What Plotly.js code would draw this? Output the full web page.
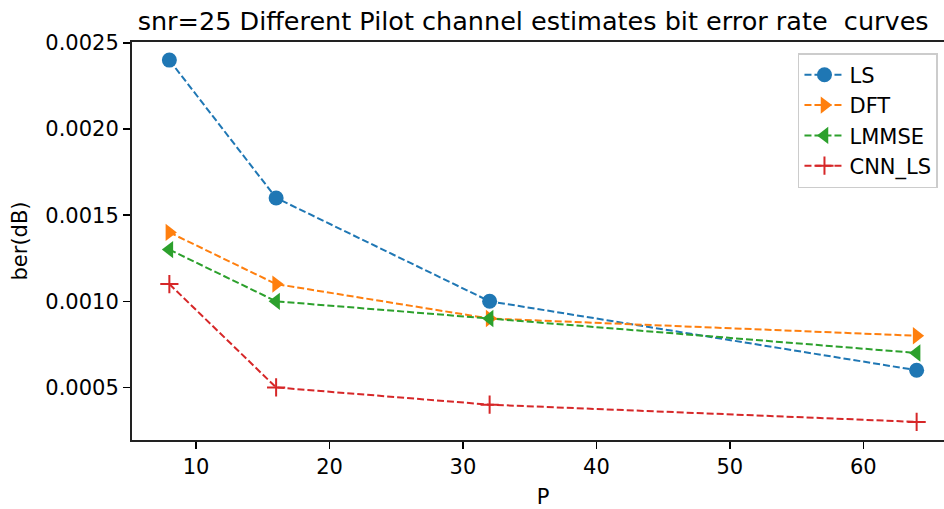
<!DOCTYPE html>
<html>
<head>
<meta charset="utf-8">
<script src="https://cdn.plot.ly/plotly-3.0.1.min.js"></script>
<style>
html,body{margin:0;padding:0;overflow:hidden;background:#fff;width:944px;height:509px;}
#chart{width:956px;height:509px;}
</style>
</head>
<body>
<div id="chart"></div>
<script>
const P = [8, 16, 32, 64];
const LS = [0.0024, 0.0016, 0.0010, 0.0006];
const DFT = [0.0014, 0.0011, 0.0009, 0.0008];
const LMMSE = [0.0013, 0.0010, 0.0009, 0.0007];
const CNN_LS = [0.0011, 0.0005, 0.0004, 0.0003];
const seriesNames = ['LS', 'DFT', 'LMMSE', 'CNN_LS'];
const yTickVals = [0.0005, 0.0010, 0.0015, 0.0020, 0.0025];
const xTickVals = [10, 20, 30, 40, 50, 60];

const FONT = 'DejaVu Sans, sans-serif';
const colors = ['#1f77b4', '#ff7f0e', '#2ca02c', '#d62728'];
const symbols = ['circle', 'triangle-right', 'triangle-left', 'cross-thin'];
const sizes = [15, 15, 15, 13];
const data = [LS, DFT, LMMSE, CNN_LS].map((ys, i) => ({
  x: P, y: ys, name: seriesNames[i], type: 'scatter', mode: 'lines+markers',
  line: {color: colors[i], width: 2, dash: '7px,3px'},
  marker: {symbol: symbols[i], size: sizes[i], color: colors[i],
           line: {color: colors[i], width: symbols[i] === 'cross-thin' ? 2 : 0}}
}));

const layout = {
  width: 956, height: 509,
  margin: {l: 132, r: 2, t: 42, b: 69},
  paper_bgcolor: '#fff', plot_bgcolor: '#fff',
  font: {family: FONT, size: 21, color: '#000'},
  showlegend: true,
  title: {text: 'snr=25 Different Pilot channel estimates bit error rate  curves',
          font: {family: FONT, size: 25.5, color: '#000'},
          x: 0.488, xref: 'paper', xanchor: 'center', y: 1 - 21/509, yref: 'container', yanchor: 'middle'},
  xaxis: {
    range: [5.2, 66.8], tickvals: xTickVals, ticks: 'outside', ticklen: 7, tickwidth: 1.5,
    tickcolor: '#000', showline: true, linecolor: '#222', linewidth: 2, mirror: true,
    showgrid: false, zeroline: false, tickfont: {size: 21},
    title: {text: 'P', font: {size: 21}, standoff: 16}
  },
  yaxis: {
    range: [0.000195, 0.002505], tickvals: yTickVals, tickformat: '.4f', ticks: 'outside', ticklen: 7, tickwidth: 1.5,
    tickcolor: '#000', showline: true, linecolor: '#222', linewidth: 2, mirror: true,
    showgrid: false, zeroline: false, tickfont: {size: 21},
    title: {text: 'ber(dB)', font: {size: 21}, standoff: 12}
  },
  legend: {x: 0.9805, y: 0.972, xanchor: 'right', yanchor: 'top',
           bgcolor: 'rgba(255,255,255,0.8)', bordercolor: '#cccccc', borderwidth: 1.5,
           font: {size: 21}, tracegroupgap: 0, itemwidth: 40}
};
Plotly.newPlot('chart', data, layout, {displayModeBar: false, staticPlot: true});
</script>
</body>
</html>
